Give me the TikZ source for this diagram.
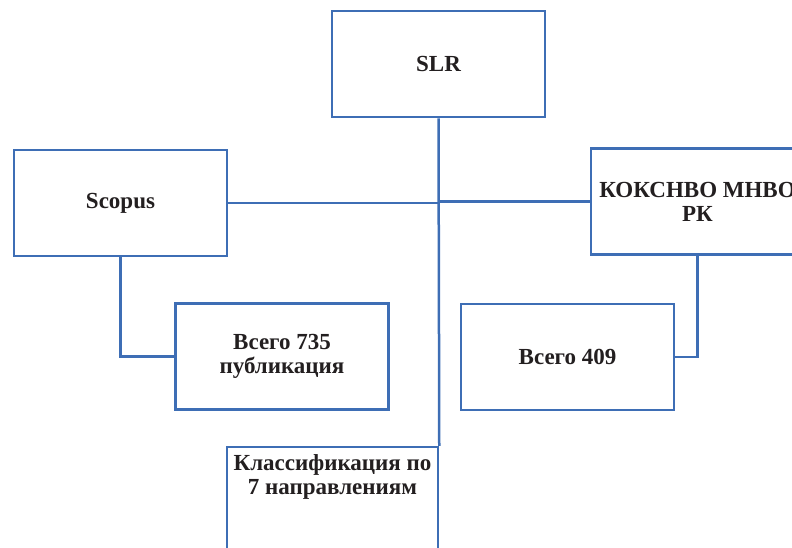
\documentclass[tikz,border=0pt]{standalone}
\usepackage{fontspec}
\setmainfont{Liberation Serif}
\usepackage{tikz}
\usetikzlibrary{positioning}

\definecolor{boxblue}{RGB}{62,110,181}
\definecolor{txt}{RGB}{35,31,32}

\tikzset{
  blk/.style={draw=boxblue, line width=2.5pt, fill=white, text=txt,
    minimum width=213pt, minimum height=106pt, inner sep=0pt,
    align=center, font=\fontsize{23}{24}\selectfont\bfseries},
  wire/.style={draw=boxblue, line width=2.5pt}
}

\begin{document}
\begin{tikzpicture}[x=1pt,y=-1pt]
        \useasboundingbox (0,0) rectangle (792,547);

        \node[blk](slr) at (438.5, 64) {SLR};
        \node[blk](scopus) at (120.5, 203) {Scopus};
        \node[blk](kok) at (697.5, 201.5) {КОКСНВО МНВО\\РК};
        \node[blk](t735) at (282, 356.5) {Всего 735\\публикация};
        \node[blk](t409) at (567.5, 357) {Всего 409};
        \node[blk, minimum width=211pt](cls) at (332.5, 500) {};
        \node[font=\fontsize{23}{24}\selectfont\bfseries, text=txt, align=center]
              (clstxt) at (332.5, 477) {Классификация по\\7 направлениям};

        % trunk and branches
        \draw[wire] (slr.south) -- (cls.north east);
        \draw[wire] (scopus.east) -- (scopus.east -| slr.south);
        \draw[wire] (kok.west -| slr.south) -- (kok.west);

        \draw[wire] (scopus.south) |- (t735.west);
        \draw[wire] (kok.south) |- (t409.east);
      \end{tikzpicture}
\end{document}
